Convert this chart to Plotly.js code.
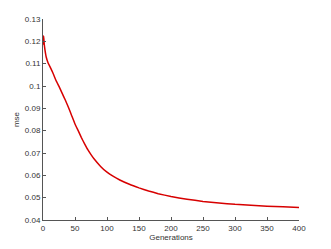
<!DOCTYPE html>
<html>
<head>
<meta charset="utf-8">
<script src="https://cdn.plot.ly/plotly-3.0.1.min.js"></script>
<style>html,body{margin:0;padding:0;background:#fff;}#chart{width:331px;height:249px;}</style>
</head>
<body>
<div id="chart"></div>
<script>
var generations = [0,1,2,3,5,8,12,16,20,25,30,35,40,45,50,55,60,65,70,75,80,90,100,110,120,135,150,165,180,200,225,250,275,300,325,350,375,400];
var mse = [0.1185,0.1225,0.1185,0.1163,0.1130,0.1103,0.1080,0.1055,0.1027,0.0998,0.0967,0.0936,0.0903,0.0866,0.0830,0.0800,0.0769,0.0741,0.0715,0.0693,0.0673,0.0640,0.0614,0.0595,0.0579,0.0560,0.0544,0.0530,0.0518,0.0505,0.0493,0.0483,0.0476,0.0470,0.0466,0.0462,0.0459,0.0456];
var xTicks = [0,50,100,150,200,250,300,350,400];
var yTicks = [0.04,0.05,0.06,0.07,0.08,0.09,0.1,0.11,0.12,0.13];
var yTickText = ['0.04','0.05','0.06','0.07','0.08','0.09','0.1','0.11','0.12','0.13'];

var trace = {
  x: generations, y: mse, type: 'scatter', mode: 'lines',
  line: {color: 'rgb(215,0,0)', width: 1.5, shape: 'spline', smoothing: 0.3},
  hoverinfo: 'skip'
};
var fnt = {family: 'Liberation Sans, Arial, sans-serif', size: 8, color: '#333'};
var layout = {
  width: 331, height: 249,
  margin: {l: 43, r: 32, t: 19, b: 28.5, pad: 0},
  paper_bgcolor: '#fff', plot_bgcolor: '#fff',
  showlegend: false,
  font: fnt,
  xaxis: {
    range: [0, 400], tickvals: xTicks, ticks: 'inside', ticklen: 3, tickcolor: '#555',
    showline: true, linecolor: '#555', linewidth: 1, showgrid: false, zeroline: false,
    tickfont: fnt, fixedrange: true,
    title: {text: 'Generations', font: fnt, standoff: 2}
  },
  yaxis: {
    range: [0.04, 0.13], tickvals: yTicks, ticktext: yTickText, ticks: 'inside', ticklen: 3, tickcolor: '#555',
    showline: true, linecolor: '#555', linewidth: 1, showgrid: false, zeroline: false,
    tickfont: fnt, fixedrange: true,
    title: {text: 'mse', font: fnt, standoff: 4}
  }
};
Plotly.newPlot('chart', [trace], layout, {displayModeBar: false, staticPlot: true});
</script>
</body>
</html>
